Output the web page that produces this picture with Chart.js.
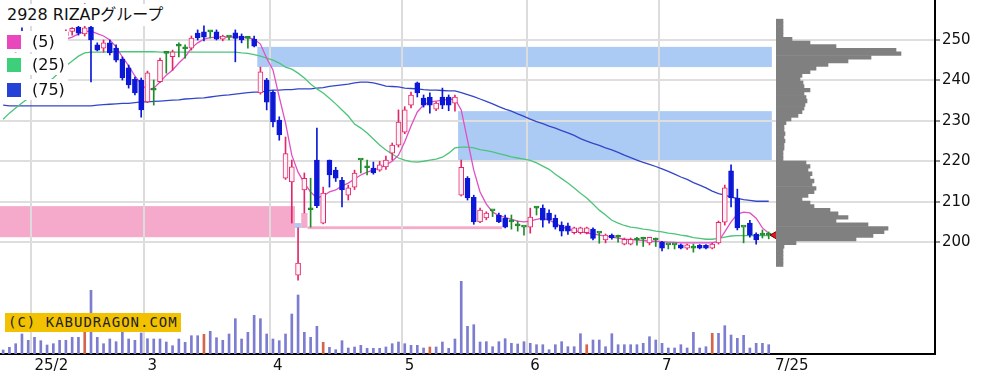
<!DOCTYPE html>
<html>
<head>
<meta charset="utf-8">
<script src="https://cdn.jsdelivr.net/npm/chart.js@4.4.1/dist/chart.umd.min.js"></script>
<style>
  html, body { margin: 0; padding: 0; background: #fff; }
  #wrap { position: relative; width: 1004px; height: 386px; overflow: hidden; }
  #main { position: absolute; left: 0; top: 0; }
  #prof { position: absolute; left: 776px; top: 0; }
  .box { position: absolute; background: #fff; color: #111; white-space: nowrap;
         font-family: "DejaVu Sans", "Noto Sans CJK JP", sans-serif; }
  #title { left: 4px; top: 4px; height: 22px; line-height: 22px; font-size: 16px; padding: 0 3px; }
  .leg { left: 0; width: 68px; height: 21px; line-height: 21px; font-size: 16px; padding-left: 32px; box-sizing: border-box; }
  .sq { position: absolute; left: 7px; top: 4px; width: 14px; height: 14px; }
  #copy { left: 5px; top: 313px; height: 19px; line-height: 19px; padding: 0 3px; background: #f2c200;
          font-family: "DejaVu Sans Mono", monospace; font-size: 14px; letter-spacing: 1px; color: #222; }
</style>
</head>
<body>
<div id="wrap">
  <canvas id="main" width="1004" height="386"></canvas>
  <canvas id="prof" width="159" height="354"></canvas>
  <div class="box" id="title">2928 RIZAPグループ</div>
  <div class="box leg" style="top:31px"><span class="sq" style="background:#e948bd"></span>(5)</div>
  <div class="box leg" style="top:54px"><span class="sq" style="background:#3ecf7a"></span>(25)</div>
  <div class="box leg" style="top:79px"><span class="sq" style="background:#2443d6"></span>(75)</div>
  <div class="box" id="copy">(C) KABUDRAGON.COM</div>
</div>
<script>
// trading days shown on the chart
const dates = [
  '1/27','1/28','1/29','1/30','1/31',
  '2/3','2/4','2/5','2/6','2/7','2/10','2/12','2/13','2/14','2/17','2/18','2/19','2/20','2/21','2/25','2/26','2/27','2/28',
  '3/3','3/4','3/5','3/6','3/7','3/10','3/11','3/12','3/13','3/14','3/17','3/18','3/19','3/21','3/24','3/25','3/26','3/27','3/28','3/31',
  '4/1','4/2','4/3','4/4','4/7','4/8','4/9','4/10','4/11','4/14','4/15','4/16','4/17','4/18','4/21','4/22','4/23','4/24','4/25','4/28','4/30',
  '5/1','5/2','5/7','5/8','5/9','5/12','5/13','5/14','5/15','5/16','5/19','5/20','5/21','5/22','5/23','5/26','5/27','5/28','5/29','5/30',
  '6/2','6/3','6/4','6/5','6/6','6/9','6/10','6/11','6/12','6/13','6/16','6/17','6/18','6/19','6/20','6/23','6/24','6/25','6/26','6/27','6/30',
  '7/1','7/2','7/3','7/4','7/7','7/8','7/9','7/10','7/11','7/14','7/15','7/16','7/17','7/18','7/22','7/23','7/24','7/25'
];

const open = [
  249, 250, 249, 251, 249.5, 248, 250, 249, 250, 249.5, 251,
  252.1, 253.2, 251.5, 253.2, 248.8, 248, 249.3, 248, 245.3, 243.1, 240.3, 240.1,
  234.7, 237.6, 239.7, 246.7, 245.9, 248.5, 247.8, 248, 251.7, 252, 252, 252, 250.2, 250.7, 251.8, 251, 250.4, 250.2, 236.9, 240.1,
  237.1, 230.2, 215.8, 214.9, 191.8, 212.9, 208, 220.3, 204.7, 220.3, 217.8, 215.3, 211.6, 213.6, 220.3, 218.4, 218.3, 217.8, 218.6, 222, 224,
  227.2, 233.9, 239.4, 235.6, 235.9, 232.9, 235.9, 235.9, 234.4, 211.6, 215.8, 211.1, 205, 206, 207.7, 206.7, 205.9, 205, 204, 203.7,
  203.7, 208.4, 208.4, 207.2, 205.9, 204.2, 204, 202.3, 202.3, 202.3, 203.2, 202.2, 200.5, 201.7, 201.2, 199.5, 199.5, 200.5, 200.7, 199.8, 200.5,
  200, 199.3, 199.3, 199.3, 198.5, 198.5, 199.2, 199.2, 198.5, 199.8, 204.9, 217.6, 210.9, 203.7, 204.7, 202, 201.7, 201.7
];
const high = [
  251, 252, 251.5, 253, 251, 250.5, 251, 250.5, 251, 251.5, 252.5,
  253.1, 253.5, 259, 253.5, 249.3, 250, 250, 248.8, 245.8, 243.8, 240.8, 240.6,
  242.3, 240.1, 245.5, 246.7, 247.5, 249.3, 248.8, 251, 252.5, 253.5, 252, 252.5, 251.2, 250.7, 252.5, 251.5, 250.4, 251, 243.3, 240.5,
  237.5, 231, 226, 220.3, 203.5, 217.1, 215.8, 228.2, 213.6, 220.3, 218.5, 216, 214.1, 217.8, 220.3, 220.3, 219.8, 220, 221.3, 224.5, 232.7,
  233.5, 237.1, 239.6, 236.4, 236.9, 234.7, 238.1, 236.4, 236.4, 220.3, 216.2, 211.6, 208.4, 207.5, 207.7, 207.2, 206.7, 206.7, 205.2, 203.7,
  208.4, 208.7, 209.2, 208, 206.7, 205, 204.7, 203.7, 203.7, 203.7, 203.5, 202.2, 202, 202, 201.7, 201, 201, 201.2, 201.2, 201.2, 201,
  200.2, 199.3, 199.3, 199.5, 199.5, 199.5, 199.4, 199.4, 199.8, 205.2, 214.1, 219.1, 213.1, 203.7, 205.4, 202.3, 203, 202.5
];
const low = [
  247.5, 248, 247, 248, 247.2, 247.3, 248, 247.5, 248.5, 248.5, 250,
  251.2, 251.2, 251, 239.6, 247.3, 247, 246.3, 244.6, 240.1, 238.1, 236.4, 230.9,
  234.5, 233.9, 239.5, 241.8, 242.5, 245.8, 245.5, 247.5, 250, 249.8, 250.5, 250, 249.8, 250, 244.6, 249.3, 248, 248.3, 236.6, 232.7,
  228.5, 225.2, 215.5, 204.7, 190.6, 207.2, 203.7, 208.5, 204.5, 213.6, 215, 208.7, 210.4, 213, 217.1, 216.6, 216.8, 217.5, 218, 220.3, 223.5,
  226.8, 233.2, 235.9, 233.4, 231.9, 232.5, 233, 232.5, 232.4, 211.4, 210.4, 204.4, 204.8, 205.5, 206.3, 204.8, 203.5, 203.2, 202.7, 201.7,
  202.2, 206.7, 203.7, 204.7, 203.2, 201.5, 201.9, 202, 202, 202, 200.5, 199.7, 199.8, 200.7, 200, 199.3, 199.3, 199.2, 198.9, 199.3, 198.9,
  197.8, 198.3, 198.3, 198.3, 198.2, 197.5, 198.3, 198.3, 198.3, 199.5, 204.2, 208.7, 203, 199.8, 201.2, 199.5, 201, 200.8
];
const close = [
  250, 249, 251, 249.5, 248, 250, 249, 250, 249.5, 251, 252,
  252.9, 251.7, 253, 250, 247.5, 249.3, 246.8, 245, 240.6, 238.9, 236.9, 232.7,
  241.9, 237.6, 245, 246.7, 247.1, 248.5, 247.8, 250.5, 250.5, 250.7, 252, 250.2, 251, 250.7, 250.4, 250, 250.4, 248.5, 242.1, 234.6,
  229.7, 226.5, 221.9, 218.6, 194.8, 215.8, 208, 209, 212.1, 216.6, 215.8, 212.9, 213.4, 217.1, 220.3, 218.4, 217.1, 219.1, 220.3, 224, 229.7,
  232.7, 236.4, 236.9, 233.9, 233.9, 234.4, 233.9, 233.9, 235.9, 218.5, 210.9, 205, 207.9, 207.2, 207.7, 205, 203.7, 205, 204, 203.7,
  206.2, 208.4, 205.4, 205.4, 203.7, 202.7, 202.7, 203.5, 203.5, 203.5, 200.9, 202.2, 201.7, 201, 201.2, 200.7, 200.7, 200.5, 200.7, 201.2, 200.5,
  198.5, 199.3, 199.3, 198.5, 199.3, 198.5, 198.5, 198.5, 199.5, 204.9, 213.4, 210.9, 203.5, 203.7, 201.7, 200.5, 201.7, 201.7
];

const ma5 = [
  247.5, 248.2, 248.8, 249.5, 249.6, 249.3, 249.4, 249.6, 249.7, 249.9, 250.2,
  250.7, 251.5, 252.1, 252.2, 251.6, 251.0, 250.0, 248.3, 245.8, 243.6, 241.1, 239.1,
  237.6, 238.1, 239.6, 241.3, 242.6, 244.3, 245.8, 248.0, 249.3, 250.2, 250.6, 250.7, 250.7, 250.7, 250.7, 250.7, 250.6, 250.2, 249.0, 245.5,
  242.6, 235.9, 229.5, 221.5, 217.3, 214.6, 212.4, 210.9, 211.4, 212.4, 212.9, 213.9, 214.6, 215.6, 216.6, 217.3, 217.8, 218.3, 219.1, 220.0, 221.5,
  224.8, 228.7, 232.2, 233.9, 234.7, 234.9, 235.1, 235.3, 235.4, 232.7, 225.2, 217.8, 212.4, 209.4, 207.4, 206.6, 206.1, 205.6, 205.2, 205.0,
  205.2, 205.6, 205.9, 205.4, 204.7, 203.8, 203.2, 202.8, 202.6, 202.2, 202.0, 201.7, 201.5, 201.2, 201.0, 200.7, 200.6, 200.5, 200.4, 200.2, 200.2,
  200.1, 200.0, 199.9, 199.8, 199.8, 199.8, 199.8, 199.8, 199.8, 200.2, 202.5, 205.0, 206.9, 207.4, 207.2, 205.9, 203.5, 202.2
];
const ma25 = [
  230.4, 231.9, 233.2, 234.4, 235.6, 236.9, 238.1, 239.4, 240.6, 242.1, 243.6,
  244.8, 246.0, 246.8, 247.0, 247.0, 247.0, 247.1, 247.1, 247.1, 247.1, 247.1, 247.1,
  247.1, 247.1, 247.0, 247.0, 247.0, 247.0, 247.0, 247.0, 247.0, 247.0, 247.0, 247.0, 247.0, 247.0, 247.0, 246.8, 246.7, 246.4, 246.0, 245.5,
  245.0, 244.3, 243.3, 242.8, 241.8, 240.6, 239.1, 237.9, 236.9, 235.6, 234.2, 232.7, 231.2, 229.2, 228.2, 227.0, 225.5, 224.0, 222.8, 221.8, 220.8,
  220.3, 219.9, 219.8, 220.0, 220.3, 220.5, 221.0, 222.0, 223.3, 223.5, 223.5, 223.3, 222.9, 222.6, 222.3, 221.9, 221.5, 221.1, 220.8, 220.5,
  220.2, 219.6, 218.8, 218.0, 216.8, 215.7, 214.6, 213.4, 212.1, 210.9, 209.4, 207.9, 206.7, 205.4, 204.7, 204.1, 203.7, 203.5, 203.2, 203.0, 202.7,
  202.5, 202.2, 202.0, 201.7, 201.5, 201.1, 200.9, 200.7, 200.7, 200.9, 201.2, 201.5, 201.6, 201.6, 201.6, 201.6, 201.6, 201.6
];
const ma75 = [
  233.9, 233.7, 233.7, 233.7, 233.7, 233.7, 233.7, 233.7, 233.7, 233.7, 233.7,
  233.7, 233.7, 233.7, 233.7, 233.9, 234.0, 234.1, 234.2, 234.3, 234.3, 234.5, 234.7,
  234.7, 234.8, 234.9, 235.0, 235.1, 235.2, 235.4, 235.5, 235.6, 235.7, 235.9, 236.1, 236.3, 236.4, 236.6, 236.8, 237.0, 237.1, 237.1, 237.4,
  237.6, 237.6, 237.7, 237.7, 237.9, 237.9, 237.9, 238.1, 238.2, 238.5, 238.7, 238.9, 239.1, 239.4, 239.6, 239.6, 239.4, 239.0, 238.6, 238.5, 238.4,
  238.1, 238.0, 237.9, 237.7, 237.6, 237.6, 237.5, 237.4, 237.4, 237.0, 236.5, 236.0, 235.4, 234.8, 234.2, 233.5, 232.9, 232.4, 231.7, 231.1,
  230.4, 229.8, 229.3, 228.7, 228.2, 227.6, 227.0, 226.4, 225.6, 225.0, 224.4, 223.9, 223.3, 222.8, 222.2, 221.5, 220.9, 220.3, 219.7, 219.2, 218.7,
  218.1, 217.5, 216.8, 216.1, 215.5, 214.7, 214.1, 213.4, 212.6, 212.0, 211.6, 211.1, 210.8, 210.5, 210.3, 210.1, 210.1, 210.1
];

const volume = [
  40, 67, 103, 200, 137, 167, 133, 90, 103, 137, 137,
  167, 167, 227, 637, 167, 103, 150, 123, 230, 150, 137, 210,
  153, 150, 150, 120, 83, 150, 117, 183, 183, 197, 227, 163, 137, 200, 353, 150, 217, 387, 353, 200,
  150, 133, 200, 400, 590, 217, 167, 277, 117, 67, 43, 133, 60, 70, 87, 57, 57, 57, 70, 103, 120,
  103, 87, 87, 60, 70, 70, 120, 57, 150, 727, 277, 293, 120, 123, 73, 123, 153, 107, 100, 123,
  107, 93, 93, 43, 93, 123, 73, 73, 203, 93, 140, 140, 73, 203, 93, 93, 93, 93, 107, 173, 140,
  107, 60, 60, 93, 60, 217, 60, 73, 207, 207, 283, 190, 157, 187, 60, 107, 107, 93
];
// option SQ days, volume drawn in red
const sqDays = ['2/14', '3/14', '4/11', '5/9', '6/13', '7/11'];

// price windows (gaps) still open
const zoneFrom = ['1/27', '3/28', '5/16', '4/7', '4/8', '4/9'];
const zoneTo   = ['4/4', '7/25', '7/25', '4/7', '4/8', '5/26'];
const zoneLow  = [201.2, 243.3, 220.3, 203.5, 203.5, 203.2];
const zoneHigh = [208.9, 248.3, 232.4, 204.7, 207.2, 203.9];
const zoneType = ['up', 'down', 'down', 'down', 'up', 'up'];

// price-by-volume profile
const profilePrice = [
  192, 193, 194, 195, 196, 197, 198, 199, 200, 201, 202, 203, 204, 205, 206, 207, 208, 209, 210, 211,
  212, 213, 214, 215, 216, 217, 218, 219, 220, 221, 222, 223, 224, 225, 226, 227, 228, 229, 230, 231,
  232, 233, 234, 235, 236, 237, 238, 239, 240, 241, 242, 243, 244, 245, 246, 247, 248, 249, 250, 251,
  252, 253, 254, 255, 256, 257, 258, 259
];
const profileVolume = [
  7, 7, 7, 7, 7, 8, 20, 80, 97, 108, 112, 92, 60, 72, 62, 54, 38, 34, 26, 32,
  38, 40, 36, 38, 34, 36, 32, 34, 30, 7, 7, 7, 8, 8, 9, 8, 9, 8, 8, 10,
  15, 22, 26, 28, 29, 31, 30, 28, 34, 28, 27, 24, 26, 34, 40, 52, 72, 95, 125, 120,
  60, 34, 16, 7, 7, 7, 7, 7
];

const monthStarts = ['2/3', '3/3', '4/1', '5/1', '6/2', '7/1'];
const monthLabels = ['25/2', '3', '4', '5', '6', '7'];
const yTicks = [200, 210, 220, 230, 240, 250];
const futureSlots = 26;
const priceMin = 172.3;
const priceMax = 259.9;

const UP = '#e2286a', DOWN = '#0c18d6', EVEN = '#1e8c2a';

Chart.defaults.font.family = '"DejaVu Sans", sans-serif';
Chart.defaults.animation = false;

const slots = dates.concat(Array.from({ length: futureSlots }, (_, k) => 'next' + (k + 1)));
const monthIdx = monthStarts.map(d => dates.indexOf(d));
const candleColor = dates.map((d, i) => close[i] > open[i] ? UP : close[i] < open[i] ? DOWN : EVEN);
const bodyFill = dates.map((d, i) => close[i] > open[i] ? '#fff2f7' : candleColor[i]);

const zonePlugin = {
  id: 'zones',
  beforeDraw(chart) {
    const { ctx, chartArea, scales: { x, y } } = chart;
    const half = (x.getPixelForValue(1) - x.getPixelForValue(0)) / 2;
    ctx.save();
    ctx.beginPath();
    ctx.rect(chartArea.left, chartArea.top, chartArea.width, chartArea.height);
    ctx.clip();
    zoneFrom.forEach((f, k) => {
      const x0 = x.getPixelForValue(dates.indexOf(f)) - half;
      const x1 = x.getPixelForValue(dates.indexOf(zoneTo[k])) + half;
      const y0 = y.getPixelForValue(zoneHigh[k]);
      const y1 = y.getPixelForValue(zoneLow[k]);
      ctx.fillStyle = zoneType[k] === 'up' ? '#f5aacb' : '#abcbf5';
      ctx.fillRect(x0, y0, x1 - x0, y1 - y0);
    });
    ctx.restore();
  }
};

new Chart(document.getElementById('main'), {
  type: 'bar',
  data: {
    labels: slots,
    datasets: [
      {
        type: 'line', label: 'last',
        data: [{ x: slots[dates.length], y: close[close.length - 1] }],
        showLine: false, pointStyle: 'triangle', rotation: -90, pointRadius: 5,
        backgroundColor: '#e8141e', borderColor: '#6a0000', borderWidth: 1, order: 0
      },
      {
        label: 'body',
        data: dates.map((d, i) => [Math.min(open[i], close[i]), Math.max(open[i], close[i])]),
        backgroundColor: bodyFill, borderColor: candleColor, borderWidth: 1, borderSkipped: false,
        barThickness: 5, minBarLength: 2, grouped: false, order: 1
      },
      {
        label: 'wick',
        data: dates.map((d, i) => [low[i], high[i]]),
        backgroundColor: candleColor, barThickness: 1, grouped: false, order: 2
      },
      { type: 'line', label: '(5)', data: ma5, borderColor: '#e24fc4', borderWidth: 1.3, pointRadius: 0, order: 3 },
      { type: 'line', label: '(25)', data: ma25, borderColor: '#4cc47a', borderWidth: 1.3, pointRadius: 0, order: 4 },
      { type: 'line', label: '(75)', data: ma75, borderColor: '#3446c8', borderWidth: 1.3, pointRadius: 0, order: 5 },
      {
        label: 'volume', yAxisID: 'yv', data: volume,
        backgroundColor: dates.map(d => sqDays.includes(d) ? '#d4644c' : '#7c7cd0'),
        barThickness: 2, grouped: false, order: 6
      }
    ]
  },
  options: {
    responsive: false,
    devicePixelRatio: 1,
    events: [],
    layout: { padding: 0, autoPadding: false },
    plugins: { legend: { display: false }, tooltip: { enabled: false } },
    scales: {
      x: {
        type: 'category',
        offset: true,
        grid: {
          offset: true,
          drawTicks: false,
          lineWidth: 2,
          color: c => monthIdx.includes(c.index) ? '#dcdcdc' : 'rgba(0,0,0,0)'
        },
        border: { display: true, color: '#000', width: 2 },
        ticks: {
          autoSkip: false, maxRotation: 0, minRotation: 0, align: 'start', padding: 3,
          color: '#111', font: { size: 15 },
          callback: (v, i) => {
            const m = monthIdx.indexOf(i);
            if (m >= 0) return monthLabels[m];
            if (i === dates.length) return dates[dates.length - 1];
            return '';
          }
        },
        afterFit: s => { s.height = 32; s.paddingLeft = 0; s.paddingRight = 0; }
      },
      y: {
        position: 'right',
        min: priceMin, max: priceMax,
        afterBuildTicks: s => { s.ticks = yTicks.map(v => ({ value: v })); },
        ticks: { color: '#111', font: { size: 15 }, padding: 2 },
        grid: { color: '#dedede', lineWidth: 2, tickLength: 5, tickColor: '#222', tickWidth: 1 },
        border: { display: true, color: '#000', width: 2 },
        afterFit: s => { s.width = 69; s.paddingTop = 0; s.paddingBottom = 0; }
      },
      yv: { display: false, min: 0, max: 3540 }
    }
  },
  plugins: [zonePlugin]
});

new Chart(document.getElementById('prof'), {
  type: 'bar',
  data: {
    datasets: [{
      label: 'profile',
      data: profilePrice.map((p, i) => ({ x: profileVolume[i], y: p })),
      backgroundColor: '#808080', borderWidth: 0, barPercentage: 1, categoryPercentage: 1
    }]
  },
  options: {
    indexAxis: 'y',
    responsive: false,
    devicePixelRatio: 1,
    events: [],
    layout: { padding: 0, autoPadding: false },
    plugins: { legend: { display: false }, tooltip: { enabled: false } },
    scales: {
      y: { type: 'linear', display: false, min: priceMin, max: priceMax },
      x: { type: 'linear', display: false, min: 0, max: 159 }
    }
  }
});
</script>
</body>
</html>
